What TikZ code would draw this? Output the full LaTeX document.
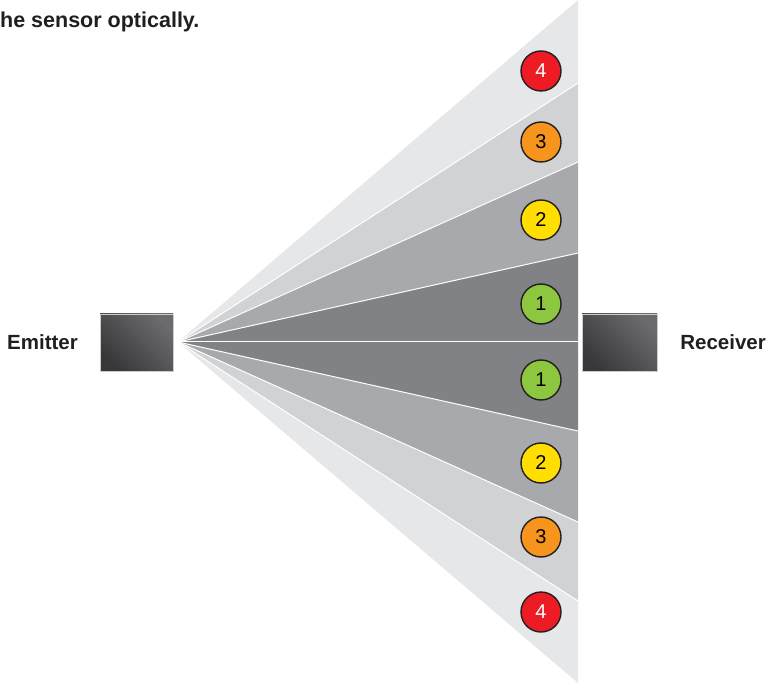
\documentclass[tikz,border=0pt]{standalone}
\usepackage{fontspec}
\setmainfont{Liberation Sans}
\usetikzlibrary{shadings}
\definecolor{bandA}{HTML}{E6E7E8}
\definecolor{bandB}{HTML}{D1D2D4}
\definecolor{bandC}{HTML}{A7A9AC}
\definecolor{bandD}{HTML}{808285}
\definecolor{cred}{HTML}{ED1C24}
\definecolor{corange}{HTML}{F7941D}
\definecolor{cyellow}{HTML}{FFDE00}
\definecolor{cgreen}{HTML}{8DC63F}
\definecolor{ringc}{HTML}{231F20}
\definecolor{boxdark}{HTML}{38383A}
\definecolor{boxlight}{HTML}{6B6B6E}
\begin{document}
\begin{tikzpicture}[x=1pt,y=-1pt,
  zone/.style={circle,draw=ringc,line width=1.4pt,minimum size=40pt,inner sep=0pt,font=\fontsize{20}{20}\selectfont},
  devbox/.style={shade,left color=boxdark,right color=boxlight,shading angle=135,draw=white!80!black,line width=0.4pt,minimum width=73pt,minimum height=57pt,inner sep=0pt},
  lbl/.style={font=\fontsize{20.5}{24}\selectfont\bfseries,text=black!88,inner sep=0pt},
  sep/.style={draw=white,line width=1pt}]
\useasboundingbox (0,0) rectangle (768,684);
\coordinate (apex) at (178,342);
% bands
\fill[bandA] (apex) -- (578,0) -- (578,83) -- cycle;
\fill[bandB] (apex) -- (578,83) -- (578,162) -- cycle;
\fill[bandC] (apex) -- (578,162) -- (578,253) -- cycle;
\fill[bandD] (apex) -- (578,253) -- (578,342) -- cycle;
\fill[bandD] (apex) -- (578,342) -- (578,431) -- cycle;
\fill[bandC] (apex) -- (578,431) -- (578,522) -- cycle;
\fill[bandB] (apex) -- (578,522) -- (578,601) -- cycle;
\fill[bandA] (apex) -- (578,601) -- (578,683) -- cycle;
\foreach \yy in {83,162,253,342,431,522,601} \draw[sep] (apex) -- (578,\yy);
% circles
\node[zone,fill=cred,text=white] (u4) at (541,71) {4};
\node[zone,fill=corange] (u3) at (541,142) {3};
\node[zone,fill=cyellow] (u2) at (541,220) {2};
\node[zone,fill=cgreen] (u1) at (541,304) {1};
\node[zone,fill=cgreen] (l1) at (541,380) {1};
\node[zone,fill=cyellow] (l2) at (541,463) {2};
\node[zone,fill=corange] (l3) at (541,537) {3};
\node[zone,fill=cred,text=white] (l4) at (541,612) {4};
% devices
\node[devbox] (emitter) at (136.5,342.5) {};
\node[devbox,minimum width=75pt] (receiver) at (619.5,342.5) {};
\node[lbl,anchor=west] (emlbl) at (7,342) {Emitter};
\node[lbl,anchor=east] (rclbl) at (766,342) {Receiver};
\node[lbl,font=\fontsize{21.5}{24}\selectfont\bfseries,anchor=base west] (title) at (0,28) {he sensor optically.};
\end{tikzpicture}
\end{document}
